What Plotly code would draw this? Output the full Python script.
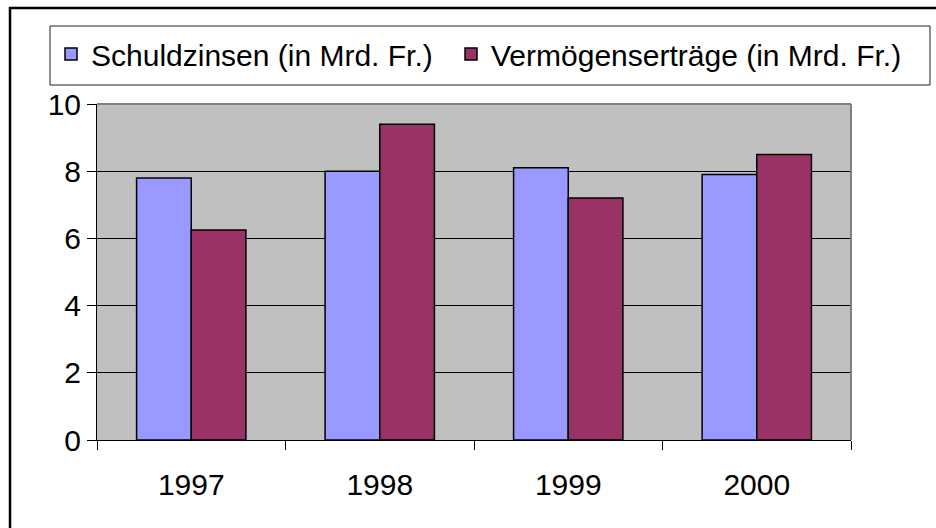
import plotly.graph_objects as go

years = ["1997", "1998", "1999", "2000"]
schuldzinsen = [7.8, 8.0, 8.1, 7.9]
vermoegensertraege = [6.25, 9.4, 7.2, 8.5]
series_names = ["Schuldzinsen (in Mrd. Fr.)", "Vermögenserträge (in Mrd. Fr.)"]

FONT = "Liberation Sans, Arial, sans-serif"
FS = 30
LFS = 30

fig = go.Figure()
fig.add_trace(go.Bar(x=years, y=schuldzinsen, name=series_names[0], legend="legend",
                     marker=dict(color="#9999FF", line=dict(color="black", width=1.5))))
fig.add_trace(go.Bar(x=years, y=vermoegensertraege, name=series_names[1], legend="legend2",
                     marker=dict(color="#993366", line=dict(color="black", width=1.5))))

W, H = 936, 528
L, R, T, B = 97, 85, 104, 88
pw, ph = W - L - R, H - T - B

def px(x):
    return (x - L) / pw

def py(y):
    return (H - B - y) / ph

legend_common = dict(orientation="h", xanchor="left", yanchor="top",
                     borderwidth=0, bgcolor="rgba(0,0,0,0)",
                     font=dict(family=FONT, size=LFS, color="black"),
                     itemwidth=30)

fig.update_layout(
    width=W, height=H,
    margin=dict(l=L, r=R, t=T, b=B, autoexpand=False),
    paper_bgcolor="white",
    plot_bgcolor="#C0C0C0",
    barmode="group",
    bargap=0.42,
    bargroupgap=0,
    font=dict(family=FONT, size=FS, color="black"),
    showlegend=True,
    legend=dict(x=px(51), y=py(28), **legend_common),
    legend2=dict(x=px(451), y=py(28), **legend_common),
    xaxis=dict(showgrid=False, ticks="outside", tickson="boundaries", ticklen=9,
               tickcolor="black", showline=True, linecolor="black", linewidth=1,
               ticklabelstandoff=18,
               tickfont=dict(family=FONT, size=FS, color="black"), automargin=False),
    yaxis=dict(range=[0, 10], dtick=2, showgrid=True, gridcolor="black", gridwidth=1,
               ticks="outside", ticklen=9, tickcolor="black", showline=True,
               linecolor="black", linewidth=1, zeroline=False, automargin=False,
               tickfont=dict(family=FONT, size=FS, color="black")),
    shapes=[
        # plot area top and right border (grey)
        dict(type="line", xref="paper", yref="paper", x0=0, x1=1, y0=1, y1=1,
             line=dict(color="#808080", width=2), layer="above"),
        dict(type="line", xref="paper", yref="paper", x0=1, x1=1, y0=0, y1=1,
             line=dict(color="#808080", width=2), layer="above"),
        # legend box
        dict(type="rect", xref="paper", yref="paper", x0=px(50), x1=px(930), y0=py(85), y1=py(26),
             line=dict(color="#202020", width=1), fillcolor="rgba(0,0,0,0)", layer="below"),
        # outer chart border
        dict(type="rect", xref="paper", yref="paper", x0=px(10), x1=px(950), y0=py(545), y1=py(8),
             line=dict(color="black", width=2.5), fillcolor="rgba(0,0,0,0)"),
    ],
)

fig.write_html("out.html", config={"displayModeBar": False},
               post_script="document.body.style.margin='0';")
